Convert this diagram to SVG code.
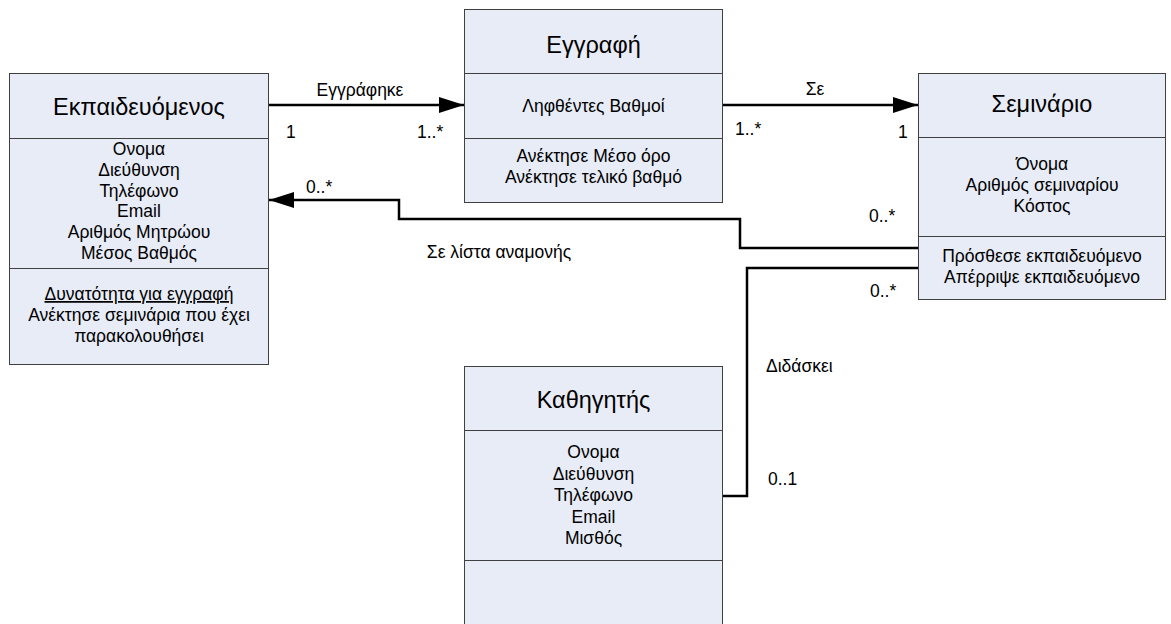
<svg xmlns="http://www.w3.org/2000/svg" width="1171" height="624" viewBox="0 0 1171 624">
  <style>
    .box { fill: #e8ecf7; stroke: #404040; stroke-width: 1; }
    .div { stroke: #404040; stroke-width: 1; fill: none; }
    .title { font-family: "Liberation Sans", Arial, sans-serif; font-size: 23.5px; fill: #000; text-anchor: middle; }
    .attr { font-family: "Liberation Sans", Arial, sans-serif; font-size: 17.5px; fill: #000; text-anchor: middle; }
    .lbl { font-family: "Liberation Sans", Arial, sans-serif; font-size: 17.5px; fill: #000; }
    .conn { stroke: #000; stroke-width: 2.5; fill: none; }
  </style>
  <defs>
    <marker id="arrow" viewBox="0 0 25 16" refX="25" refY="8" markerWidth="25" markerHeight="16" markerUnits="userSpaceOnUse" orient="auto">
      <path d="M0,0 L25,8 L0,16 z" fill="#000"/>
    </marker>
  </defs>
  <rect width="1171" height="624" fill="#fff"/>

  <!-- Student class -->
  <g id="student">
    <rect class="box" x="9.5" y="73.5" width="259" height="291"/>
    <line class="div" x1="9.5" y1="138.5" x2="268.5" y2="138.5"/>
    <line class="div" x1="9.5" y1="268.5" x2="268.5" y2="268.5"/>
    <text class="title" x="139" y="115">Εκπαιδευόμενος</text>
    <text class="attr" x="139" y="155">Ονομα</text>
    <text class="attr" x="139" y="176">Διεύθυνση</text>
    <text class="attr" x="139" y="197">Τηλέφωνο</text>
    <text class="attr" x="139" y="217">Email</text>
    <text class="attr" x="139" y="238">Αριθμός Μητρώου</text>
    <text class="attr" x="139" y="259">Μέσος Βαθμός</text>
    <text class="attr" x="139" y="300" text-decoration="underline">Δυνατότητα για εγγραφή</text>
    <text class="attr" x="139" y="321">Ανέκτησε σεμινάρια που έχει</text>
    <text class="attr" x="139" y="342">παρακολουθήσει</text>
  </g>

  <!-- Enrollment class -->
  <g id="enrollment">
    <rect class="box" x="464.5" y="9.5" width="258" height="193"/>
    <line class="div" x1="464.5" y1="73.5" x2="722.5" y2="73.5"/>
    <line class="div" x1="464.5" y1="138.5" x2="722.5" y2="138.5"/>
    <text class="title" x="593.5" y="53">Εγγραφή</text>
    <text class="attr" x="593.5" y="112">Ληφθέντες Βαθμοί</text>
    <text class="attr" x="593.5" y="162">Ανέκτησε Μέσο όρο</text>
    <text class="attr" x="593.5" y="183">Ανέκτησε τελικό βαθμό</text>
  </g>

  <!-- Seminar class -->
  <g id="seminar">
    <rect class="box" x="918.5" y="73.5" width="247" height="226"/>
    <line class="div" x1="918.5" y1="137.5" x2="1165.5" y2="137.5"/>
    <line class="div" x1="918.5" y1="236.5" x2="1165.5" y2="236.5"/>
    <text class="title" x="1042" y="112">Σεμινάριο</text>
    <text class="attr" x="1042" y="170">Όνομα</text>
    <text class="attr" x="1042" y="191">Αριθμός σεμιναρίου</text>
    <text class="attr" x="1042" y="212">Κόστος</text>
    <text class="attr" x="1042" y="262">Πρόσθεσε εκπαιδευόμενο</text>
    <text class="attr" x="1042" y="283">Απέρριψε εκπαιδευόμενο</text>
  </g>

  <!-- Professor class -->
  <g id="professor">
    <rect class="box" x="464.5" y="366.5" width="258" height="270"/>
    <line class="div" x1="464.5" y1="430.5" x2="722.5" y2="430.5"/>
    <line class="div" x1="464.5" y1="560.5" x2="722.5" y2="560.5"/>
    <text class="title" x="593.5" y="408">Καθηγητής</text>
    <text class="attr" x="593.5" y="458">Ονομα</text>
    <text class="attr" x="593.5" y="480">Διεύθυνση</text>
    <text class="attr" x="593.5" y="501">Τηλέφωνο</text>
    <text class="attr" x="593.5" y="523">Email</text>
    <text class="attr" x="593.5" y="544">Μισθός</text>
  </g>

  <!-- Associations -->
  <g id="connectors">
    <path class="conn" d="M269,105 H464" marker-end="url(#arrow)"/>
    <path class="conn" d="M723,105 H918" marker-end="url(#arrow)"/>
    <path class="conn" d="M918,248 H740 V219 H399 V200 H269" marker-end="url(#arrow)"/>
    <path class="conn" d="M918,268 H747 V496 H723"/>

    <text class="lbl" x="360" y="96" text-anchor="middle">Εγγράφηκε</text>
    <text class="lbl" x="286" y="138">1</text>
    <text class="lbl" x="417" y="138">1..*</text>

    <text class="lbl" x="815" y="95" text-anchor="middle">Σε</text>
    <text class="lbl" x="735" y="135">1..*</text>
    <text class="lbl" x="898" y="138">1</text>

    <text class="lbl" x="306" y="193">0..*</text>
    <text class="lbl" x="869" y="222">0..*</text>
    <text class="lbl" x="499" y="258" text-anchor="middle">Σε λίστα αναμονής</text>

    <text class="lbl" x="870" y="297">0..*</text>
    <text class="lbl" x="766" y="372">Διδάσκει</text>
    <text class="lbl" x="768" y="485">0..1</text>
  </g>
</svg>
